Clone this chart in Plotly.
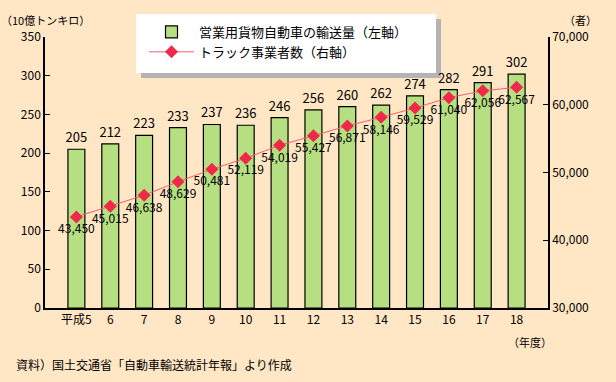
import plotly.graph_objects as go

categories = ["平成5", "6", "7", "8", "9", "10", "11", "12", "13", "14", "15", "16", "17", "18"]
transport_volume = [205, 212, 223, 233, 237, 236, 246, 256, 260, 262, 274, 282, 291, 302]
truck_operators = [43450, 45015, 46638, 48629, 50481, 52119, 54019, 55427, 56871, 58146, 59529, 61040, 62056, 62567]
left_ticks = [0, 50, 100, 150, 200, 250, 300, 350]
right_ticks = [30000, 40000, 50000, 60000, 70000]

BG = "#FFE6C4"
FONT = "Noto Sans CJK JP, Noto Sans, sans-serif"

W, H = 616, 382
L, R, T, B = 45, 68, 37, 74
pw, ph = W - L - R, H - T - B


def px(x):
    return (x - L) / pw


def py(y):
    return (H - B - y) / ph


fig = go.Figure()
fig.add_trace(go.Bar(
    x=categories, y=transport_volume, name="営業用貨物自動車の輸送量（左軸）",
    marker=dict(color="#B5DF80", line=dict(color="black", width=1.2)),
    text=[str(v) for v in transport_volume], textposition="outside", constraintext="none",
    textfont=dict(size=13, color="black", family=FONT), cliponaxis=False,
))
fig.add_trace(go.Scatter(
    x=categories, y=truck_operators, name="トラック事業者数（右軸）", yaxis="y2",
    mode="lines+markers+text",
    line=dict(color="#FF5A6E", width=1),
    marker=dict(symbol="diamond", size=10, color="#F0284A"),
    text=[f"{v:,}" for v in truck_operators], textposition="bottom center",
    textfont=dict(size=12, color="black", family=FONT), cliponaxis=False,
))

shapes = [
    dict(type="rect", xref="paper", yref="paper", x0=px(141), x1=px(441), y0=py(78), y1=py(19),
         fillcolor="#B4B4B4", line=dict(width=0), layer="below"),
    dict(type="rect", xref="paper", yref="paper", x0=px(136), x1=px(436), y0=py(73), y1=py(14),
         fillcolor="white", line=dict(width=0), layer="below"),
]

annotations = [
    dict(text="（10億トンキロ）", xref="paper", yref="paper", x=px(45), y=py(20), showarrow=False,
         font=dict(size=11, family=FONT, color="black"), xanchor="center", yanchor="middle"),
    dict(text="（者）", xref="paper", yref="paper", x=px(580), y=py(20), showarrow=False,
         font=dict(size=11, family=FONT, color="black"), xanchor="center", yanchor="middle"),
    dict(text="（年度）", xref="paper", yref="paper", x=px(530), y=py(342), showarrow=False,
         font=dict(size=11, family=FONT, color="black"), xanchor="center", yanchor="middle"),
    dict(text="資料）国土交通省「自動車輸送統計年報」より作成", xref="paper", yref="paper",
         x=px(14), y=py(364), showarrow=False,
         font=dict(size=12, family=FONT, color="black"), xanchor="left", yanchor="middle"),
]

fig.update_layout(
    width=W, height=H,
    margin=dict(l=L, r=R, t=T, b=B, autoexpand=False),
    paper_bgcolor=BG, plot_bgcolor=BG,
    font=dict(family=FONT, size=12, color="black"),
    bargap=0.5,
    showlegend=True,
    legend=dict(x=px(144), y=py(17), xanchor="left", yanchor="top",
                bgcolor="rgba(0,0,0,0)", font=dict(size=13, family=FONT),
                itemwidth=45),
    xaxis=dict(type="category", showline=True, linecolor="black", linewidth=1.5,
               ticks="", showgrid=False, tickfont=dict(size=12), fixedrange=True),
    yaxis=dict(range=[0, 350], tickvals=left_ticks, showline=True, linecolor="black",
               linewidth=1.5, ticks="inside", ticklen=5, tickcolor="black",
               showgrid=False, zeroline=False, tickfont=dict(size=12)),
    yaxis2=dict(range=[30000, 70000], tickvals=right_ticks, tickformat=",", overlaying="y",
                side="right", showline=True, linecolor="black", linewidth=1.5,
                ticks="inside", ticklen=5, tickcolor="black", showgrid=False,
                zeroline=False, tickfont=dict(size=12)),
    shapes=shapes,
    annotations=annotations,
)

fig.write_html("out.html", config={"displayModeBar": False},
               post_script="document.body.style.margin='0';document.body.style.background='" + BG + "';")
